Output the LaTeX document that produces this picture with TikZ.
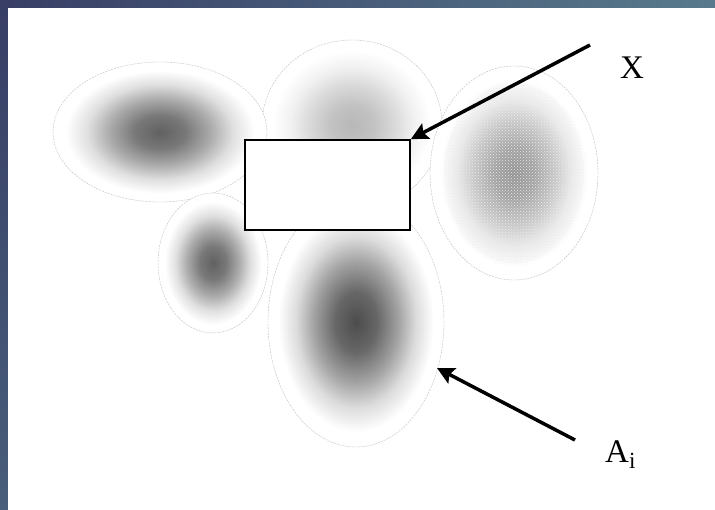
\documentclass[tikz,border=0pt]{standalone}
\usepackage{fontspec}
\setmainfont{Liberation Serif}
\usetikzlibrary{arrows.meta,patterns}

% fading blob, color set per blob through blobc (25bp = rim of the path)
\colorlet{blobc}{gray}
\pgfdeclareradialshading[blobc]{blob}{\pgfpoint{0bp}{0bp}}{%
  color(0bp)=(blobc); color(6bp)=(blobc!85!white);
  color(12bp)=(blobc!52!white); color(17bp)=(blobc!20!white);
  color(22bp)=(white); color(50bp)=(white)}

\definecolor{frameA}{RGB}{56,62,102}
\definecolor{frameB}{RGB}{88,122,140}
\definecolor{frameC}{RGB}{72,94,122}

\begin{document}
\begin{tikzpicture}[x=1pt,y=-1pt,
  rim/.style={draw=black!25,line width=0.4pt,dash pattern=on 2pt off 1pt},
  ptr/.style={line width=3.5pt,-{Stealth[length=17pt,width=17pt,inset=3pt]}},
  lbl/.style={font=\fontsize{33}{36}\selectfont,inner sep=0pt}]

\useasboundingbox (0,0) rectangle (715,510);
\shade[left color=frameA,right color=frameB] (0,0) rectangle (715,8);
\shade[top color=frameA,bottom color=frameC] (0,0) rectangle (8,510);
\fill[white] (8,8) rectangle (715,510);

% the sets A_i
\foreach \cx/\cy/\rx/\ry/\c in {352/125/90/85/28, 160/132/107/70/62,
    514/173/84/107/42, 213/263/55/70/62, 356/322/88/125/70} {
  \colorlet{blobc}{black!\c}
  \shade[shading=blob] (\cx,\cy) ellipse [x radius=\rx,y radius=\ry];
  \draw[rim] (\cx,\cy) ellipse [x radius=\rx,y radius=\ry];
}
\fill[pattern=crosshatch dots,pattern color=white!92!black]
  (514,173) ellipse [x radius=70,y radius=90];

% the set X
\node[draw,line width=1.8pt,fill=white,minimum width=165pt,minimum height=90pt,
  inner sep=0pt] (box) at (327.5,185) {};

\coordinate (xtail) at (590,45);
\coordinate (atail) at (575,440);
\coordinate (ahead) at (437,368);
\node[lbl] (xlab) at (632,68) {X};
\node[lbl,anchor=base west] (alab) at (605,462) {A\textsubscript{i}};

\draw[ptr] (xtail) -- (box.north east);
\draw[ptr] (atail) -- (ahead);

\end{tikzpicture}
\end{document}
